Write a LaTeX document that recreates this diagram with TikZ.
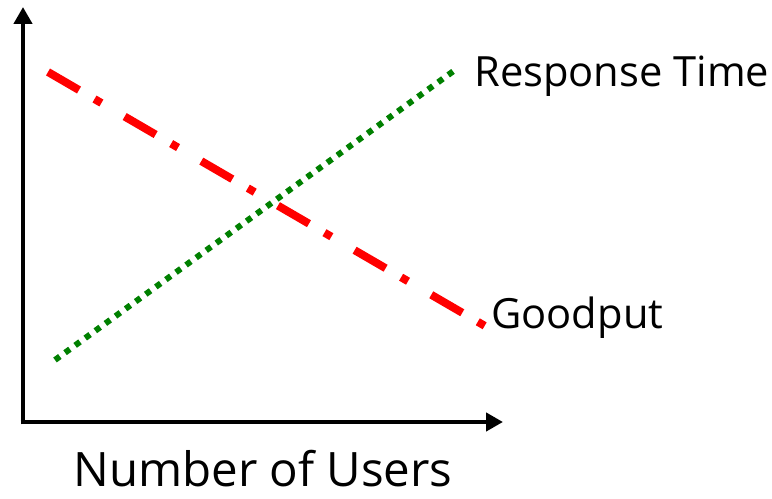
\documentclass[tikz,border=0pt]{standalone}
\usepackage{fontspec}
\setmainfont{Open Sans}
\usetikzlibrary{arrows.meta}
\begin{document}
\begin{tikzpicture}[x=0.02cm,y=-0.02cm,
  axis/.style={line width=5*0.567pt,-{Triangle[length=17*0.567pt,width=18*0.567pt]}},
  resp/.style={draw=green!50!black,line width=6*0.567pt,dash pattern=on 6*0.567pt off 6.5*0.567pt},
  good/.style={draw=red,line width=8*0.567pt,dash pattern=on 36*0.567pt off 18*0.567pt on 8*0.567pt off 27*0.567pt},
  lbl/.style={font=\fontsize{23.7}{28}\selectfont,inner sep=0pt}]
\useasboundingbox (0,0) rectangle (772,499);
\coordinate (o) at (23,422);
\coordinate (ytop) at (23,7);
\coordinate (xend) at (503,422);
\draw[axis] ([yshift=-1.4pt]o) -- (ytop);
\draw[axis] ([xshift=-1.4pt]o) -- (xend);
\coordinate (r1) at (55,360);
\coordinate (r2) at (455,70);
\coordinate (g1) at (48,72);
\coordinate (g2) at (485,326);
\draw[resp] (r1) -- (r2);
\draw[good] (g1) -- (g2);
\node[lbl,anchor=west] (rt) at (474,76) {Response Time};
\node[lbl,anchor=west] (gp) at (491,318) {Goodput};
\node[font=\fontsize{27}{32}\selectfont,inner sep=0pt] (nu) at (263,469) {Number of Users};
\end{tikzpicture}
\end{document}
